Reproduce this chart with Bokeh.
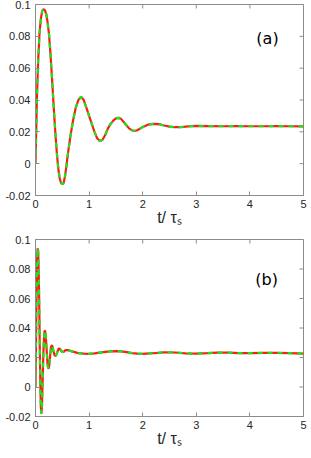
import math
from bokeh.plotting import figure
from bokeh.layouts import column
from bokeh.models import FixedTicker, Range1d, Label
from bokeh.embed import file_html
from bokeh.resources import INLINE

# ---- data ----
t_a = [0, 0.01, 0.025, 0.05, 0.075, 0.10, 0.125, 0.15, 0.175, 0.20, 0.225, 0.25,
       0.275, 0.30, 0.325, 0.35, 0.375, 0.40, 0.425, 0.45, 0.475, 0.50, 0.525,
       0.55, 0.575, 0.60, 0.65, 0.70, 0.75, 0.80, 0.85, 0.90, 0.95, 1.00, 1.05,
       1.10, 1.15, 1.20, 1.25, 1.30, 1.35, 1.40, 1.45, 1.50, 1.55, 1.60, 1.65,
       1.70, 1.75, 1.80, 1.85, 1.90, 1.95, 2.00, 2.10, 2.20, 2.30, 2.40, 2.50,
       2.60, 2.70, 2.80, 2.90, 3.00, 3.25, 3.50, 3.75, 4.00, 4.25, 4.50, 4.75, 5.00]
y_a = [0.0, 0.016, 0.040, 0.065, 0.082, 0.091, 0.096, 0.097, 0.0965, 0.094, 0.089, 0.082,
       0.071, 0.058, 0.044, 0.030, 0.017, 0.006, -0.003, -0.009, -0.012, -0.013, -0.012,
       -0.008, -0.002, 0.005, 0.017, 0.027, 0.035, 0.040, 0.042, 0.040, 0.035, 0.030, 0.025,
       0.020, 0.016, 0.0142, 0.015, 0.018, 0.022, 0.025, 0.027, 0.0285, 0.0288, 0.028, 0.026,
       0.024, 0.022, 0.021, 0.0205, 0.021, 0.022, 0.023, 0.0245, 0.025, 0.0248, 0.024, 0.0233,
       0.0229, 0.0229, 0.0233, 0.0236, 0.0237, 0.0236, 0.0235, 0.0236, 0.0235, 0.0235, 0.0236, 0.0235, 0.0234]

t_b = [0, 0.01, 0.02, 0.03, 0.04, 0.05, 0.06, 0.07, 0.08, 0.09, 0.10, 0.11, 0.12,
       0.13, 0.14, 0.15, 0.16, 0.17, 0.18, 0.19, 0.20, 0.21, 0.22, 0.23, 0.24, 0.25,
       0.26, 0.27, 0.28, 0.29, 0.30, 0.31, 0.32, 0.33, 0.35, 0.37, 0.39, 0.41, 0.43,
       0.45, 0.47, 0.50, 0.53, 0.56, 0.60, 0.65, 0.70, 0.80, 0.90, 1.00, 1.10, 1.20,
       1.30, 1.40, 1.50, 1.60, 1.70, 1.80, 1.90, 2.00, 2.20, 2.40, 2.60, 2.80, 3.00,
       3.20, 3.40, 3.60, 3.80, 4.00, 4.25, 4.50, 4.75, 5.00]
y_b = [0.0, 0.030, 0.062, 0.085, 0.094, 0.092, 0.078, 0.055, 0.027, 0.002, -0.014, -0.018, -0.013,
       0.000, 0.014, 0.026, 0.034, 0.038, 0.038, 0.035, 0.030, 0.024, 0.018, 0.014, 0.0125, 0.013,
       0.016, 0.020, 0.024, 0.027, 0.028, 0.028, 0.027, 0.025, 0.022, 0.021, 0.022, 0.024, 0.026,
       0.026, 0.025, 0.0237, 0.024, 0.025, 0.025, 0.0245, 0.024, 0.023, 0.0226, 0.0225, 0.0228, 0.0233,
       0.0238, 0.0242, 0.0243, 0.0241, 0.0236, 0.0230, 0.0226, 0.0225, 0.0229, 0.0235, 0.0234, 0.0228, 0.0226,
       0.0229, 0.0233, 0.0233, 0.0230, 0.0229, 0.0231, 0.0231, 0.0229, 0.0226]

x_ticks = [0, 1, 2, 3, 4, 5]
y_ticks = [-0.02, 0, 0.02, 0.04, 0.06, 0.08, 0.1]
y_tick_labels = ["-0.02", "0", "0.02", "0.04", "0.06", "0.08", "0.1"]
x_label = "t/ \u03c4\u209b"

AX = "#8c8c8c"
TXT = "#262626"
FONT = "Liberation Sans"


def make(t, y, tag, tag_x, tag_y, height, top, bottom):
    p = figure(width=311, height=height, x_range=Range1d(x_ticks[0], x_ticks[-1]),
               y_range=Range1d(y_ticks[0], y_ticks[-1]),
               output_backend="svg", toolbar_location=None,
               min_border_left=35, min_border_right=8, min_border_top=top, min_border_bottom=bottom)
    p.grid.visible = False
    p.outline_line_color = AX
    p.outline_line_width = 1
    p.background_fill_color = "white"
    p.border_fill_color = "white"

    p.line(t, y, color="#ff1a1a", line_width=2.2)
    p.line(t, y, color="#19e619", line_width=2.2, line_dash="5 5")

    # mirrored inward ticks on top and right edges
    p.ray(x=x_ticks, y=[y_ticks[-1]] * len(x_ticks), length=4, length_units="screen",
          angle=-math.pi / 2, color=AX, line_width=1)
    p.ray(x=[x_ticks[-1]] * len(y_ticks), y=y_ticks, length=4, length_units="screen",
          angle=math.pi, color=AX, line_width=1)

    xa = p.xaxis[0]
    xa.ticker = FixedTicker(ticks=x_ticks)
    ya = p.yaxis[0]
    ya.ticker = FixedTicker(ticks=y_ticks)
    ya.major_label_overrides = {v: s for v, s in zip(y_ticks, y_tick_labels)}
    for ax in (xa, ya):
        ax.axis_line_color = AX
        ax.major_tick_line_color = AX
        ax.major_tick_in = 4
        ax.major_tick_out = 0
        ax.minor_tick_line_color = None
        ax.major_label_text_font = FONT
        ax.major_label_text_font_size = "11px"
        ax.major_label_text_color = TXT
    ya.major_label_standoff = 5
    xa.major_label_standoff = 4
    xa.axis_label = x_label
    xa.axis_label_text_font = FONT
    xa.axis_label_text_font_size = "16px"
    xa.axis_label_text_font_style = "normal"
    xa.axis_label_text_color = TXT
    xa.axis_label_standoff = -2

    p.add_layout(Label(x=tag_x, y=tag_y, text=tag, text_font="DejaVu Sans",
                       text_font_size="16px", text_color="black",
                       text_baseline="alphabetic"))
    return p


pa = make(t_a, y_a, "(a)", 4.12, 0.0788, 235, 4, 40)
pb = make(t_b, y_b, "(b)", 4.10, 0.0729, 221, 4, 40)
layout = column(pa, pb, spacing=0)

open("out.html", "w").write(file_html(layout, INLINE))
